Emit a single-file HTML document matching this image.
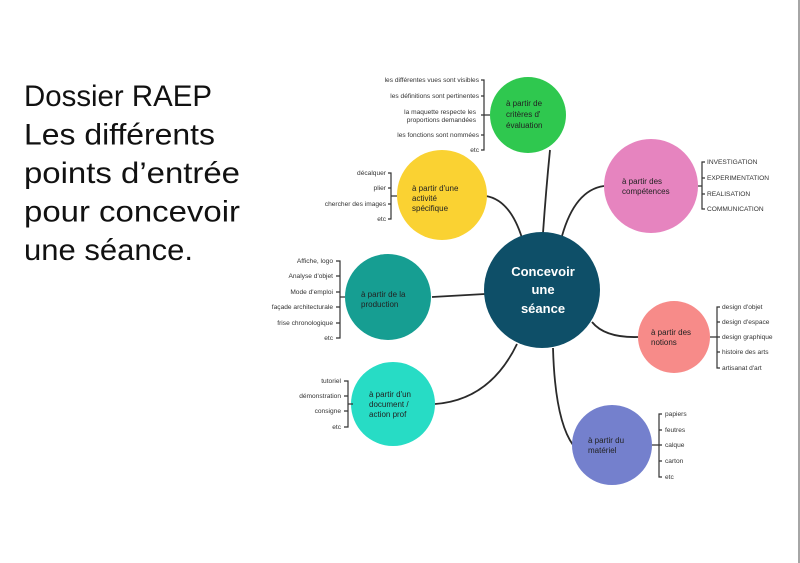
<!DOCTYPE html>
<html><head><meta charset="utf-8"><style>
html,body{margin:0;padding:0;background:#fff;}
svg{display:block;}
.t{font-family:"Liberation Sans",sans-serif;font-size:30px;fill:#111;}
.l{font-family:"Liberation Sans",sans-serif;font-size:6.6px;fill:#333;}
.c{font-family:"Liberation Sans",sans-serif;font-size:8px;fill:#222;}
.br{fill:none;stroke:#333;stroke-width:1.2;}
.ln{fill:none;stroke:#2a2a2a;stroke-width:1.8;}
</style></head><body>
<svg width="800" height="563" viewBox="0 0 800 563">
<rect width="800" height="563" fill="#fff"/>
<line x1="799" y1="0" x2="799" y2="563" stroke="#888" stroke-width="1.5"/>
<text class="t" x="24" y="106" textLength="188" lengthAdjust="spacingAndGlyphs">Dossier RAEP</text>
<text class="t" x="24" y="144.5" textLength="191" lengthAdjust="spacingAndGlyphs">Les différents</text>
<text class="t" x="24" y="183" textLength="216" lengthAdjust="spacingAndGlyphs">points d’entrée</text>
<text class="t" x="24" y="221.5" textLength="216" lengthAdjust="spacingAndGlyphs">pour concevoir</text>
<text class="t" x="24" y="260" textLength="169" lengthAdjust="spacingAndGlyphs">une séance.</text>

<!-- connectors -->
<path class="ln" d="M550 150 Q546 190 543 233"/>
<path class="ln" d="M486 196 Q510 200 522 238"/>
<path class="ln" d="M604 186 Q575 190 562 236"/>
<path class="ln" d="M432 297 L485 294"/>
<path class="ln" d="M638 337 Q605 338 592 322"/>
<path class="ln" d="M435 404 Q490 400 517 344"/>
<path class="ln" d="M573 445 Q555 420 553 348"/>

<!-- circles -->
<circle cx="528" cy="115" r="38" fill="#2fc84f"/>
<circle cx="442" cy="195" r="45" fill="#fad232"/>
<circle cx="651" cy="186" r="47" fill="#e684bf"/>
<circle cx="388" cy="297" r="43" fill="#169e92"/>
<circle cx="393" cy="404" r="42" fill="#27dcc5"/>
<circle cx="674" cy="337" r="36" fill="#f78b89"/>
<circle cx="612" cy="445" r="40" fill="#7480cd"/>
<circle cx="542" cy="290" r="58" fill="#0e4f68"/>

<text font-family="Liberation Sans,sans-serif" font-weight="bold" font-size="13" fill="#fff" text-anchor="middle"><tspan x="543" y="276">Concevoir</tspan><tspan x="543" y="294">une</tspan><tspan x="543" y="313">séance</tspan></text>

<text class="c"><tspan x="506" y="106">à partir de</tspan><tspan x="506" y="117">critères d'</tspan><tspan x="506" y="128">évaluation</tspan></text>
<text class="c"><tspan x="412" y="191">à partir d'une</tspan><tspan x="412" y="201">activité</tspan><tspan x="412" y="211">spécifique</tspan></text>
<text class="c"><tspan x="622" y="184">à partir des</tspan><tspan x="622" y="194">compétences</tspan></text>
<text class="c"><tspan x="361" y="297">à partir de la</tspan><tspan x="361" y="307">production</tspan></text>
<text class="c"><tspan x="369" y="397">à partir d'un</tspan><tspan x="369" y="407">document /</tspan><tspan x="369" y="417">action prof</tspan></text>
<text class="c"><tspan x="651" y="335">à partir des</tspan><tspan x="651" y="345">notions</tspan></text>
<text class="c"><tspan x="588" y="443">à partir du</tspan><tspan x="588" y="453">matériel</tspan></text>

<!-- green leaves -->
<path class="br" d="M481 80 h3 v70 h-3 M484 96 h-3 M484 115 h-3 M484 135 h-3 M484 115 h6"/>
<g class="l" text-anchor="end">
<text x="479" y="82">les différentes vues sont visibles</text>
<text x="479" y="98">les définitions sont pertinentes</text>
<text x="476" y="114">la maquette respecte les</text>
<text x="476" y="122">proportions demandées</text>
<text x="479" y="137">les fonctions sont nommées</text>
<text x="479" y="152">etc</text>
</g>
<!-- yellow -->
<path class="br" d="M388 173 h3 v46 h-3 M391 188 h-3 M391 204 h-3 M391 196 h6"/>
<g class="l" text-anchor="end">
<text x="386" y="175">décalquer</text><text x="386" y="190">plier</text><text x="386" y="206">chercher des images</text><text x="386" y="221">etc</text>
</g>
<!-- production -->
<path class="br" d="M336 261 h4 v77 h-4 M340 276 h-4 M340 292 h-4 M340 307 h-4 M340 323 h-4 M340 297 h5"/>
<g class="l" text-anchor="end">
<text x="333" y="263">Affiche, logo</text><text x="333" y="278">Analyse d'objet</text><text x="333" y="294">Mode d'emploi</text><text x="333" y="309">façade architecturale</text><text x="333" y="325">frise chronologique</text><text x="333" y="340">etc</text>
</g>
<!-- document -->
<path class="br" d="M344 381 h4 v46 h-4 M348 396 h-4 M348 411 h-4 M348 404 h5"/>
<g class="l" text-anchor="end">
<text x="341" y="383">tutoriel</text><text x="341" y="398">démonstration</text><text x="341" y="413">consigne</text><text x="341" y="429">etc</text>
</g>
<!-- pink -->
<path class="br" d="M705 162 h-3 v47 h3 M702 178 h3 M702 194 h3 M702 186 h-4"/>
<g class="l">
<text x="707" y="164">INVESTIGATION</text><text x="707" y="180">EXPERIMENTATION</text><text x="707" y="196">REALISATION</text><text x="707" y="211">COMMUNICATION</text>
</g>
<!-- notions -->
<path class="br" d="M720 307 h-3 v61 h3 M717 322 h3 M717 337 h3 M717 352 h3 M717 337 h-7"/>
<g class="l">
<text x="722" y="309">design d'objet</text><text x="722" y="324">design d'espace</text><text x="722" y="339">design graphique</text><text x="722" y="354">histoire des arts</text><text x="722" y="370">artisanat d'art</text>
</g>
<!-- materiel -->
<path class="br" d="M662 414 h-3 v63 h3 M659 430 h3 M659 445 h3 M659 461 h3 M659 445 h-7"/>
<g class="l">
<text x="665" y="416">papiers</text><text x="665" y="432">feutres</text><text x="665" y="447">calque</text><text x="665" y="463">carton</text><text x="665" y="479">etc</text>
</g>
</svg>
</body></html>
